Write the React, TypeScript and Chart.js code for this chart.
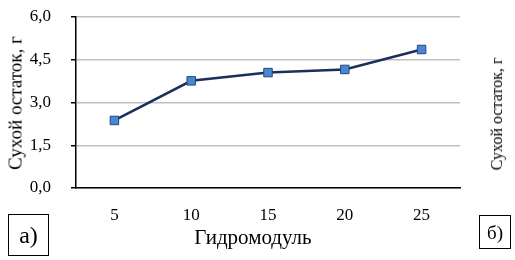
import React, { useEffect, useRef } from "react";
import { Chart, registerables } from "chart.js";

Chart.register(...registerables);

const categories = ["5", "10", "15", "20", "25"];
const dryResidue = [2.37, 3.76, 4.05, 4.16, 4.86];
const yTicks = [0, 1.5, 3, 4.5, 6];
const yTitle = "Сухой остаток, г";
const xTitle = "Гидромодуль";
const panelA = "а)";
const panelB = "б)";

const SERIF = "'Liberation Serif', 'Times New Roman', serif";

export default function App() {
  const ref = useRef<HTMLCanvasElement | null>(null);

  useEffect(() => {
    if (!ref.current) return;
    const chart = new Chart(ref.current, {
      type: "line",
      data: {
        labels: categories,
        datasets: [
          {
            data: dryResidue,
            borderColor: "#19305c",
            borderWidth: 2.5,
            pointStyle: "rect",
            pointRadius: 6,
            pointBackgroundColor: "#4a87d3",
            pointBorderColor: "#24477f",
            pointBorderWidth: 1,
            tension: 0,
          },
        ],
      },
      options: {
        animation: false,
        responsive: true,
        maintainAspectRatio: false,
        layout: { padding: { left: 0, right: 55, top: 17, bottom: 0 } },
        plugins: { legend: { display: false }, tooltip: { enabled: false } },
        scales: {
          x: {
            offset: true,
            grid: { display: false },
            border: { color: "#000", width: 1.5 },
            ticks: {
              color: "#000",
              font: { family: SERIF, size: 17 },
              padding: 9,
            },
            afterFit: (s: any) => {
              s.height = 72;
              s.paddingLeft = 0;
              s.paddingRight = 0;
            },
          },
          y: {
            min: 0,
            max: 6,
            afterBuildTicks: (s: any) => {
              s.ticks = yTicks.map((v) => ({ value: v }));
            },
            grid: {
              color: "#bfbfbf",
              lineWidth: 1.5,
              tickLength: 5,
              tickColor: "#000",
            },
            border: { color: "#000", width: 1.5 },
            ticks: {
              color: "#000",
              font: { family: SERIF, size: 17 },
              padding: 20,
              callback: (v: any) => Number(v).toFixed(1).replace(".", ","),
            },
            afterFit: (s: any) => {
              s.width = 76;
              s.paddingTop = 0;
              s.paddingBottom = 0;
            },
          },
        },
      },
    });
    return () => chart.destroy();
  }, []);

  const text: React.CSSProperties = {
    position: "absolute",
    fontFamily: SERIF,
    color: "#000",
    whiteSpace: "nowrap",
    lineHeight: 1,
  };

  return (
    <div style={{ position: "fixed", left: 0, top: 0, width: 515, height: 260, background: "#fff" }}>
      <canvas ref={ref} style={{ position: "absolute", left: 0, top: 0 }} />
      <div
        style={{
          ...text,
          left: 15,
          top: 103,
          fontSize: 19,
          transform: "translate(-50%, -50%) rotate(-90deg)",
        }}
      >
        {yTitle}
      </div>
      <div
        style={{
          ...text,
          left: 497,
          top: 114,
          fontSize: 16,
          transform: "translate(-50%, -50%) rotate(-90deg)",
        }}
      >
        {yTitle}
      </div>
      <div style={{ ...text, left: 253, top: 237, fontSize: 21, transform: "translate(-50%, -50%)" }}>
        {xTitle}
      </div>
      <div
        style={{
          ...text,
          left: 8,
          top: 214,
          width: 39,
          height: 40,
          border: "1px solid #000",
          fontSize: 24,
          display: "flex",
          alignItems: "center",
          justifyContent: "center",
        }}
      >
        {panelA}
      </div>
      <div
        style={{
          ...text,
          left: 479,
          top: 215,
          width: 30,
          height: 32,
          border: "1px solid #000",
          fontSize: 19,
          display: "flex",
          alignItems: "center",
          justifyContent: "center",
        }}
      >
        {panelB}
      </div>
    </div>
  );
}
